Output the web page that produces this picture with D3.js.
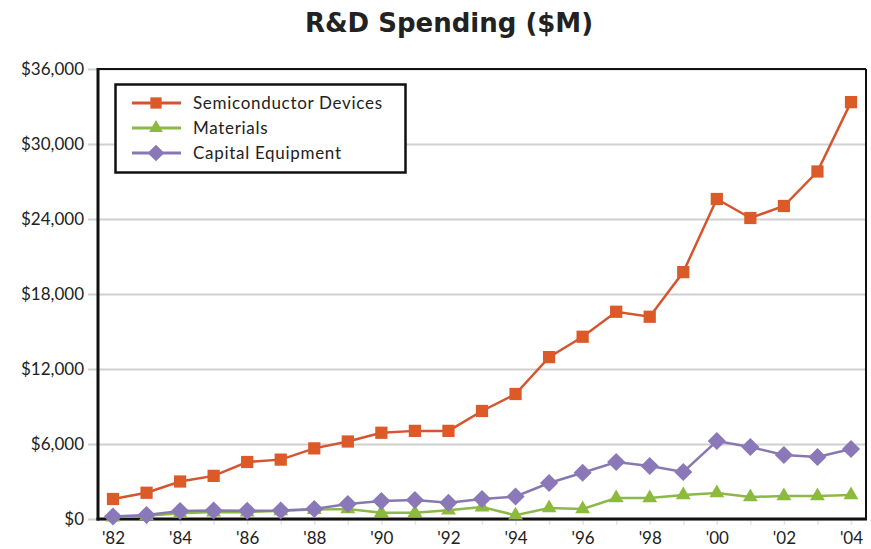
<!DOCTYPE html>
<html>
<head>
<meta charset="utf-8">
<script src="https://cdn.jsdelivr.net/npm/d3@7"></script>
<style>
  html, body { margin: 0; padding: 0; background: #fff; }
  svg { display: block; }
  text { font-family: Lato, "Open Sans", sans-serif; fill: #222; }
</style>
</head>
<body>
<svg id="chart" width="871" height="549"></svg>
<script>
// Yearly R&D spending, $M
const years = ["'82","'83","'84","'85","'86","'87","'88","'89","'90","'91","'92","'93",
               "'94","'95","'96","'97","'98","'99","'00","'01","'02","'03","'04"];
const semiconductorDevices = [1600, 2100, 3000, 3450, 4560, 4750, 5650, 6200, 6900, 7050, 7050, 8640,
                              10000, 12950, 14580, 16580, 16180, 19750, 25600, 24080, 25040, 27800, 33350];
const materials = [150, 250, 450, 550, 550, 650, 750, 800, 500, 500, 700, 950,
                   300, 880, 800, 1680, 1680, 1920, 2080, 1760, 1840, 1840, 1920];
const capitalEquipment = [200, 320, 640, 680, 660, 680, 800, 1200, 1440, 1520, 1300, 1600,
                          1800, 2880, 3700, 4560, 4240, 3760, 6240, 5760, 5120, 4960, 5600];
const yTicks = [0, 6000, 12000, 18000, 24000, 30000, 36000];
const xTickLabels = ["'82","'84","'86","'88","'90","'92","'94","'96","'98","'00","'02","'04"];

// Diamond marker: a square turned 45 degrees
const symbolRhomb = {
  draw(context, size) {
    const r = Math.sqrt(size / 2);
    context.moveTo(0, -r); context.lineTo(r, 0); context.lineTo(0, r); context.lineTo(-r, 0); context.closePath();
  }
};

const series = [
  { name: "Semiconductor Devices", values: semiconductorDevices, color: "#dc5a28", line: "#d4552f", symbol: d3.symbolSquare, size: 150 },
  { name: "Materials", values: materials, color: "#8cba3c", line: "#8cb84a", symbol: d3.symbolTriangle, size: 95 },
  { name: "Capital Equipment", values: capitalEquipment, color: "#8a78b8", line: "#8878b2", symbol: symbolRhomb, size: 165 }
];

const svg = d3.select("#chart");
const plot = { left: 98, top: 69, right: 866, bottom: 519 };

const x = d3.scalePoint().domain(years).range([plot.left + 15, plot.right - 15]);
const y = d3.scaleLinear().domain([0, 36000]).range([plot.bottom, plot.top]);

// Title
svg.append("text")
  .attr("x", 449).attr("y", 32)
  .attr("text-anchor", "middle")
  .style("font-family", "'DejaVu Sans', sans-serif")
  .style("font-size", "26px").style("font-weight", "bold")
  .text("R&D Spending ($M)");

// Horizontal gridlines with short outside ticks
const yAxis = d3.axisLeft(y)
  .tickValues(yTicks)
  .tickSize(-(plot.right - plot.left))
  .tickPadding(14)
  .tickFormat(d => "$" + d3.format(",")(d));
const gy = svg.append("g").attr("transform", `translate(${plot.left},0)`).call(yAxis);
gy.select(".domain").remove();
gy.selectAll(".tick line").attr("stroke", "#d0d0d0").attr("stroke-width", 2).attr("x1", -10);
gy.selectAll(".tick text").style("font-size", "17px").attr("fill", "#222");

// X axis: minor ticks at every year, labels every other year
const xAxis = d3.axisBottom(x).tickValues(years).tickSize(6).tickPadding(7)
  .tickFormat(d => xTickLabels.includes(d) ? d : "");
const gx = svg.append("g").attr("transform", `translate(0,${plot.bottom})`).call(xAxis);
gx.select(".domain").remove();
gx.selectAll(".tick line").attr("stroke", "#e4e4e4").attr("stroke-width", 1.5);
gx.selectAll(".tick text").style("font-size", "17px").attr("fill", "#222");

// Plot frame
svg.append("line").attr("x1", plot.left).attr("x2", plot.right).attr("y1", plot.top).attr("y2", plot.top)
  .attr("stroke", "#111").attr("stroke-width", 2);
svg.append("line").attr("x1", plot.right).attr("x2", plot.right).attr("y1", plot.top).attr("y2", plot.bottom)
  .attr("stroke", "#111").attr("stroke-width", 2);
svg.append("line").attr("x1", plot.left).attr("x2", plot.left).attr("y1", plot.top - 1).attr("y2", plot.bottom + 1.5)
  .attr("stroke", "#111").attr("stroke-width", 3);
svg.append("line").attr("x1", plot.left - 1.5).attr("x2", plot.right + 1).attr("y1", plot.bottom).attr("y2", plot.bottom)
  .attr("stroke", "#111").attr("stroke-width", 3);

// Lines and markers (drawn so capital equipment sits on top)
const line = d3.line().x((d, i) => x(years[i])).y(d => y(d));
series.forEach(s => {
  svg.append("path").datum(s.values)
    .attr("fill", "none").attr("stroke", s.line).attr("stroke-width", 2.5)
    .attr("d", line);
  svg.append("g").selectAll("path").data(s.values).join("path")
    .attr("transform", (d, i) => `translate(${x(years[i])},${y(d)})`)
    .attr("d", d3.symbol().type(s.symbol).size(s.size))
    .attr("fill", s.color);
});

// Legend
const legend = svg.append("g");
legend.append("rect")
  .attr("x", 115.5).attr("y", 84.5).attr("width", 290).attr("height", 88)
  .attr("fill", "#fff").attr("stroke", "#111").attr("stroke-width", 2.5);
series.forEach((s, i) => {
  const ly = 103 + i * 25;
  legend.append("line").attr("x1", 132).attr("x2", 181).attr("y1", ly).attr("y2", ly)
    .attr("stroke", s.line).attr("stroke-width", 3);
  legend.append("path")
    .attr("transform", `translate(156,${ly})`)
    .attr("d", d3.symbol().type(s.symbol).size(s.size * 0.85))
    .attr("fill", s.color);
  legend.append("text")
    .attr("x", 193).attr("y", ly + 6)
    .style("font-size", "17px").style("letter-spacing", "0.7px")
    .text(s.name);
});
</script>
</body>
</html>
